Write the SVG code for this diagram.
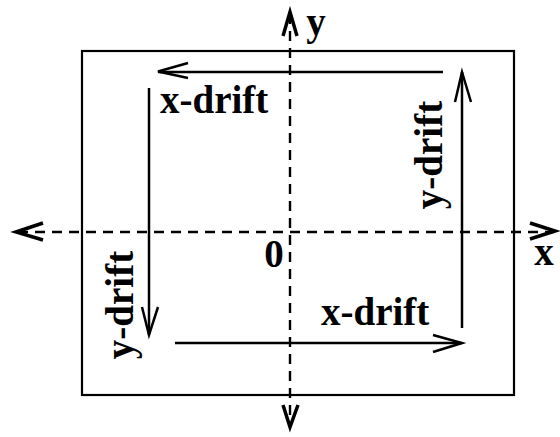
<svg xmlns="http://www.w3.org/2000/svg" width="560" height="437" viewBox="0 0 560 437">
<style>
.ax{stroke:#000;stroke-width:2.4;stroke-dasharray:10 7;fill:none}
.ln{stroke:#000;stroke-width:2.5;fill:none}
.hd{stroke:#000;stroke-width:3.5;fill:none;stroke-linejoin:miter;stroke-miterlimit:10}
.t{font-family:"Liberation Serif","Times New Roman",serif;font-weight:bold;font-size:39px;fill:#000}
</style>
<rect width="560" height="437" fill="#fff"/>
<g id="frame"><rect x="82" y="51" width="432" height="344" fill="none" stroke="#000" stroke-width="2.2"/></g>
<g id="connectors">
<line class="ax" x1="18" y1="232" x2="554" y2="232"/>
<line class="ax" x1="290" y1="14" x2="290" y2="424"/>
<polyline class="hd" points="43,223 16,232 43,240"/>
<polyline class="hd" points="530,223 555,231 530,239"/>
<polyline class="hd" points="283,36 290,12 297,36"/>
<polyline class="hd" points="283,405 290,427 298,405"/>
<line class="ln" x1="443" y1="72" x2="158" y2="72"/>
<polyline class="ln" points="188,63 158,71.5 188,78"/>
<line class="ln" x1="462" y1="328" x2="462" y2="72"/>
<polyline class="ln" points="455,102 462,72 471,102"/>
<line class="ln" x1="175" y1="343" x2="462" y2="343"/>
<polyline class="ln" points="433,335 462,343 433,352"/>
<line class="ln" x1="149" y1="88" x2="149" y2="335"/>
<polyline class="ln" points="142,307 149,335 158,307"/>
</g>
<g id="labels">
<text class="t" x="160" y="113">x-drift</text>
<text class="t" x="321" y="325">x-drift</text>
<text class="t" transform="translate(442,155) rotate(-90)" text-anchor="middle">y-drift</text>
<text class="t" transform="translate(133,305) rotate(-90)" text-anchor="middle">y-drift</text>
<text class="t" x="274" y="267" text-anchor="middle">0</text>
<text class="t" x="544" y="265" text-anchor="middle">x</text>
<text class="t" x="316" y="35" text-anchor="middle">y</text>
</g>
</svg>
